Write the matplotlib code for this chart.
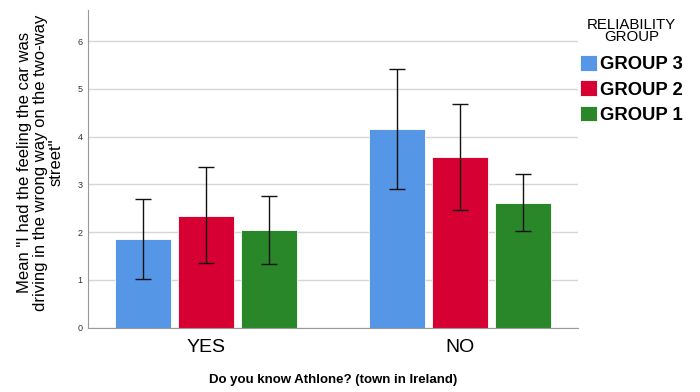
import matplotlib
matplotlib.use("Agg")
import matplotlib.pyplot as plt
import numpy as np

plt.rcParams["font.family"] = ["Liberation Sans", "DejaVu Sans"]

# Data
categories = ["YES", "NO"]
groups = ["GROUP 3", "GROUP 2", "GROUP 1"]
colors = ["#5596E6", "#D60032", "#298729"]
means = {
    "GROUP 3": [1.86, 4.16],
    "GROUP 2": [2.35, 3.58],
    "GROUP 1": [2.04, 2.62],
}
ci_low = {
    "GROUP 3": [1.03, 2.90],
    "GROUP 2": [1.35, 2.47],
    "GROUP 1": [1.33, 2.02],
}
ci_high = {
    "GROUP 3": [2.69, 5.41],
    "GROUP 2": [3.37, 4.69],
    "GROUP 1": [2.76, 3.22],
}
y_ticks = [0, 1, 2, 3, 4, 5, 6]

fig = plt.figure(figsize=(7.0, 3.92), dpi=100)
ax = fig.add_axes([0.126, 0.164, 0.700, 0.810])

x = np.arange(len(categories))
width = 0.22
offsets = [-0.248, 0.0, 0.248]

bars = []
for g, c, off in zip(groups, colors, offsets):
    m = np.array(means[g])
    lo = m - np.array(ci_low[g])
    hi = np.array(ci_high[g]) - m
    b = ax.bar(x + off, m, width, color=c, edgecolor="white", linewidth=0.6,
               label=g, zorder=2)
    ax.errorbar(x + off, m, yerr=[lo, hi], fmt="none", ecolor="#111111",
                elinewidth=1.0, capsize=5.8, capthick=1.0, zorder=3)
    bars.append(b)

ax.set_xlim(-0.465, 1.465)
ax.set_ylim(0, 6.65)
ax.set_yticks(y_ticks)
ax.set_xticks(x)
ax.set_xticklabels(categories, fontsize=14)
ax.tick_params(axis="y", length=0, labelsize=6.5, labelcolor="#333333", pad=4)
ax.tick_params(axis="x", length=0, pad=8)
ax.yaxis.grid(True, color="#D6D6D6", linewidth=1.0, zorder=0)
ax.set_axisbelow(True)
for side in ["top", "right"]:
    ax.spines[side].set_visible(False)
ax.spines["left"].set_color("#999999")
ax.spines["bottom"].set_color("#999999")

ax.set_ylabel('Mean "I had the feeling the car was\ndriving in the wrong way on the two-way\nstreet"',
              fontsize=12.0, linespacing=1.05)
ax.yaxis.label.set_multialignment("center")
ax.yaxis.set_label_coords(-0.05, 0.52)
ax.set_xlabel("Do you know Athlone? (town in Ireland)", fontsize=9.5,
              fontweight="bold", labelpad=13)

leg = ax.legend(handles=bars, title="RELIABILITY\nGROUP", loc="upper left",
                bbox_to_anchor=(0.828, 0.955), bbox_transform=fig.transFigure,
                frameon=False, prop={"weight": "bold", "size": 13.3},
                title_fontsize=10.8, handlelength=0.93, handleheight=0.93,
                handletextpad=0.2, labelspacing=0.38, borderpad=0,
                borderaxespad=0)
leg.get_title().set_linespacing(0.85)
leg.get_title().set_multialignment("center")
leg._legend_box.sep = 8

fig.savefig("out.png", dpi=100)
